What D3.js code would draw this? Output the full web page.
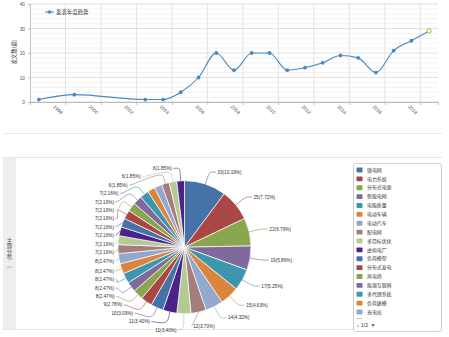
<!DOCTYPE html>
<html><head><meta charset="utf-8">
<script src="https://cdn.jsdelivr.net/npm/d3@7"></script>
<style>
body{margin:0;background:#fff}
svg{display:block}
text{font-family:"Liberation Sans","Noto Sans CJK SC",sans-serif}
.cjk{font-family:"Noto Sans CJK SC","Liberation Sans",sans-serif}
</style>
</head><body>
<svg id="c" width="449" height="337"></svg>
<script>
// ---------- data ----------
const years = [1997,1999,2003,2004,2005,2006,2007,2008,2009,2010,2011,2012,2013,2014,2015,2016,2017,2018,2019];
const paperCounts = [1,3,1,1,4,10,20,13,20,20,13,14,16,19,18,12,21,25,29];
const yearTickLabels = [1998,2000,2002,2004,2006,2008,2010,2012,2014,2016,2018];
const yTicks = [0,10,20,30,40];
const lineSeriesName = "发表年度趋势";
const yAxisTitle = "发文数(篇)";
const sidePanelTitle = "主题分布";

const topicNames = ["微电网","电力系统","分布式电源","智能电网","电能质量","电动车辆","电动汽车","配电网","多目标优化","虚拟电厂",
  "负荷模型","分布式发电","风电场","能源互联网","多代理系统","负荷建模","充电站",
  "主题18","主题19","主题20","主题21","主题22","主题23","主题24","主题25","主题26","主题27","主题28","主题29","主题30"];
const topicCounts = [33,25,22,19,17,15,14,12,11,11,10,9,8,8,8,8,8,7,7,7,7,7,7,7,7,6,6,6,6,6];
const palette = ["#4572A7","#AA4643","#89A54E","#80699B","#3D96AE","#DB843D","#92A8CD","#A47D7C","#B5CA92","#4B2388"];
const legendPageText = "1/2";

const svg = d3.select("#c");

// ---------- top line chart ----------
const lineColor = "#4a89c0";
const x = d3.scaleLinear().domain([d3.min(years)-0.5, d3.max(years)+0.5]).range([30, 438]);
const y = d3.scaleLinear().domain([0, 40]).range([102, 4]);
const gridX = d3.range(x.domain()[0], x.domain()[1], 2);
const minorY = d3.range(0, 41, 2);

const gTop = svg.append("g");
gTop.selectAll("line.minor").data(minorY).join("line")
  .attr("x1", x.range()[0]).attr("x2", x.range()[1])
  .attr("y1", d => y(d)).attr("y2", d => y(d))
  .attr("stroke", d => d % 10 === 0 ? "#d4d4d4" : "#ededed").attr("stroke-width", 0.7);
gTop.selectAll("line.vgrid").data(gridX.slice(1)).join("line")
  .attr("x1", d => x(d)).attr("x2", d => x(d))
  .attr("y1", y(40)).attr("y2", y(0))
  .attr("stroke", "#d8d8d8").attr("stroke-width", 0.7);

// y axis
const yAxis = gTop.append("g").attr("transform", `translate(${x.range()[0]},0)`)
  .call(d3.axisLeft(y).tickValues(yTicks).tickSize(2).tickPadding(3));
yAxis.select(".domain").attr("stroke", "#aaa").attr("stroke-width", 0.7);
yAxis.selectAll(".tick line").attr("stroke", "#aaa").attr("stroke-width", 0.7);
yAxis.selectAll("text").attr("font-size", 4.8).attr("fill", "#555").attr("font-family", "Liberation Sans");

// x axis ticks
const xAxis = gTop.append("g").attr("transform", `translate(0,${y(0)})`)
  .call(d3.axisBottom(x).tickValues(gridX.slice(1)).tickSize(3).tickFormat(""));
xAxis.select(".domain").attr("stroke", "#aaa").attr("stroke-width", 0.8);
xAxis.selectAll(".tick line").attr("stroke", "#aaa").attr("stroke-width", 0.7);
// x labels
const xLab = gTop.append("g").attr("transform", `translate(0,${y(0)})`)
  .call(d3.axisBottom(x).tickValues(yearTickLabels).tickSize(0).tickFormat(d3.format("d")));
xLab.select(".domain").remove();
xLab.selectAll("text").attr("font-size", 4.8).attr("fill", "#555").attr("font-family", "Liberation Sans")
  .attr("text-anchor", "start").attr("dy", 0).attr("y", 0)
  .attr("transform", "translate(-4,5) rotate(45)");

// y title
gTop.append("text").attr("class", "cjk").attr("transform", "translate(16,52) rotate(-90)")
  .attr("text-anchor", "middle").attr("font-size", 5.4).attr("fill", "#444").text(yAxisTitle);

// line
const pts = years.map((yr, i) => ({yr, v: paperCounts[i]}));
gTop.append("path").datum(pts)
  .attr("d", d3.line().x(d => x(d.yr)).y(d => y(d.v)).curve(d3.curveMonotoneX))
  .attr("fill", "none").attr("stroke", lineColor).attr("stroke-width", 1.1);
gTop.selectAll("circle.pt").data(pts).join("circle")
  .attr("cx", d => x(d.yr)).attr("cy", d => y(d.v))
  .attr("r", (d, i) => i === pts.length - 1 ? 2.2 : 1.9)
  .attr("fill", (d, i) => i === pts.length - 1 ? "#fff" : lineColor)
  .attr("stroke", (d, i) => i === pts.length - 1 ? "#8bbc21" : "none")
  .attr("stroke-width", 0.9);

// legend
gTop.append("line").attr("x1", 45).attr("x2", 54).attr("y1", 12).attr("y2", 12).attr("stroke", lineColor).attr("stroke-width", 1.1);
gTop.append("circle").attr("cx", 49.5).attr("cy", 12).attr("r", 1.8).attr("fill", lineColor);
gTop.append("text").attr("class", "cjk").attr("x", 56).attr("y", 12).attr("dy", "0.35em")
  .attr("font-size", 5.4).attr("fill", "#333").text(lineSeriesName);

// separator
svg.append("line").attr("x1", 3).attr("x2", 442).attr("y1", 133.5).attr("y2", 133.5).attr("stroke", "#e4e4e4").attr("stroke-width", 0.8);

// ---------- bottom panel ----------
svg.append("line").attr("x1", 3).attr("x2", 442).attr("y1", 157.5).attr("y2", 157.5).attr("stroke", "#e0e0e0").attr("stroke-width", 0.8);
svg.append("rect").attr("x", 3).attr("y", 158).attr("width", 13).attr("height", 171).attr("fill", "#eeeeee");
svg.append("line").attr("x1", 3).attr("x2", 442).attr("y1", 329.5).attr("y2", 329.5).attr("stroke", "#e0e0e0").attr("stroke-width", 0.8);
svg.append("text").attr("class", "cjk").attr("x", 9.5).attr("y", 238)
  .style("writing-mode", "vertical-rl").attr("font-size", 5.4).attr("fill", "#555").text(sidePanelTitle);
svg.append("text").attr("x", 9.5).attr("y", 269).attr("text-anchor", "middle")
  .attr("font-size", 5).attr("fill", "#999").text(">>");

// pie
const cx = 184.5, cy = 247.2, r = 66.5, R = 79, pad = 8, h = 8.4, topB = 164, botB = 330;
const total = d3.sum(topicCounts);
const arcs = d3.pie().sort(null).value(d => d)(topicCounts);
const arcGen = d3.arc().innerRadius(0).outerRadius(r);
const gPie = svg.append("g");
gPie.selectAll("path").data(arcs).join("path")
  .attr("transform", `translate(${cx},${cy})`)
  .attr("d", arcGen)
  .attr("fill", (d, i) => palette[i % palette.length])
  .attr("stroke", "#fff").attr("stroke-width", 0.7);

const labels = arcs.map((a, i) => {
  const m = (a.startAngle + a.endAngle) / 2;
  return {i, v: a.data, m, left: m > Math.PI, y: cy - R * Math.cos(m)};
});
function layout(side) {
  let L = labels.filter(l => l.left === side).sort((a, b) => a.y - b.y);
  const maxN = Math.floor((botB - topB) / h) + 1;
  if (L.length > maxN) {
    const drop = L.slice().sort((a, b) => a.v - b.v || a.i - b.i).slice(0, L.length - maxN);
    L = L.filter(l => !drop.includes(l));
  }
  for (let k = 0; k < L.length; k++) L[k].y = Math.max(L[k].y, topB, k ? L[k-1].y + h : -1e9);
  for (let k = L.length - 1; k >= 0; k--) L[k].y = Math.min(L[k].y, botB, k < L.length - 1 ? L[k+1].y - h : 1e9);
  for (let k = 0; k < L.length; k++) L[k].y = Math.max(L[k].y, topB, k ? L[k-1].y + h : -1e9);
  return L;
}
const shown = layout(true).concat(layout(false));
shown.forEach(l => {
  const dy = l.y - cy;
  const off = Math.abs(dy) < R ? Math.sqrt(R * R - dy * dy) : 0;
  const sin = Math.sin(l.m), cos = Math.cos(l.m);
  const E = [cx + r * sin, cy - r * cos];
  const B = [cx + (r + 7) * sin, cy - (r + 7) * cos];
  let tx, S, A, path;
  if (l.left) {
    tx = Math.max(cx - off - pad, cx - r - 4);
    S = [tx + 1.5, l.y]; A = [tx + 6.5, l.y];
    path = (B[0] < S[0] + 1) ? `M${S}L${E}` : `M${S}C${A} ${2*B[0]-E[0]},${2*B[1]-E[1]} ${B}L${E}`;
  } else {
    tx = cx + off + pad;
    S = [tx - 1.5, l.y]; A = [tx - 6.5, l.y];
    path = (B[0] > S[0] - 1) ? `M${S}L${E}` : `M${S}C${A} ${2*B[0]-E[0]},${2*B[1]-E[1]} ${B}L${E}`;
  }
  gPie.append("path").attr("d", path).attr("fill", "none")
    .attr("stroke", palette[l.i % palette.length]).attr("stroke-width", 0.6);
  gPie.append("text").attr("x", tx).attr("y", l.y).attr("dy", "0.35em")
    .attr("text-anchor", l.left ? "end" : "start")
    .attr("font-size", 4.7).attr("fill", "#333")
    .text(`${l.v}(${(l.v / total * 100).toFixed(2)}%)`);
});

// legend box
const lg = svg.append("g");
lg.append("rect").attr("x", 353.5).attr("y", 163.5).attr("width", 88).attr("height", 168).attr("rx", 2.5)
  .attr("fill", "#fff").attr("stroke", "#bbb").attr("stroke-width", 0.7);
svg.append("clipPath").attr("id", "lgclip").append("rect").attr("x", 354).attr("y", 164).attr("width", 87).attr("height", 155);
const items = lg.append("g").attr("clip-path", "url(#lgclip)");
const itemStep = 8.875;
const itemG = items.selectAll("g").data(topicNames.slice(0, 18)).join("g")
  .attr("transform", (d, i) => `translate(356.5,${170 + i * itemStep})`);
itemG.append("rect").attr("x", 0).attr("y", -2.4).attr("width", 6).attr("height", 4.8).attr("rx", 0.8)
  .attr("fill", (d, i) => palette[i % palette.length]);
itemG.append("text").attr("class", "cjk").attr("x", 10.5).attr("dy", "0.35em")
  .attr("font-size", 4.9).attr("fill", "#333").text(d => d);
lg.append("text").attr("x", 355.5).attr("y", 325.5).attr("dy", "0.35em").attr("font-size", 5).attr("fill", "#ccc").text("▲");
lg.append("text").attr("x", 361).attr("y", 325.5).attr("dy", "0.35em").attr("font-size", 5).attr("fill", "#333").text(legendPageText);
lg.append("text").attr("x", 370.5).attr("y", 325.5).attr("dy", "0.35em").attr("font-size", 5).attr("fill", "#274b6d").text("▼");
</script>
</body></html>
